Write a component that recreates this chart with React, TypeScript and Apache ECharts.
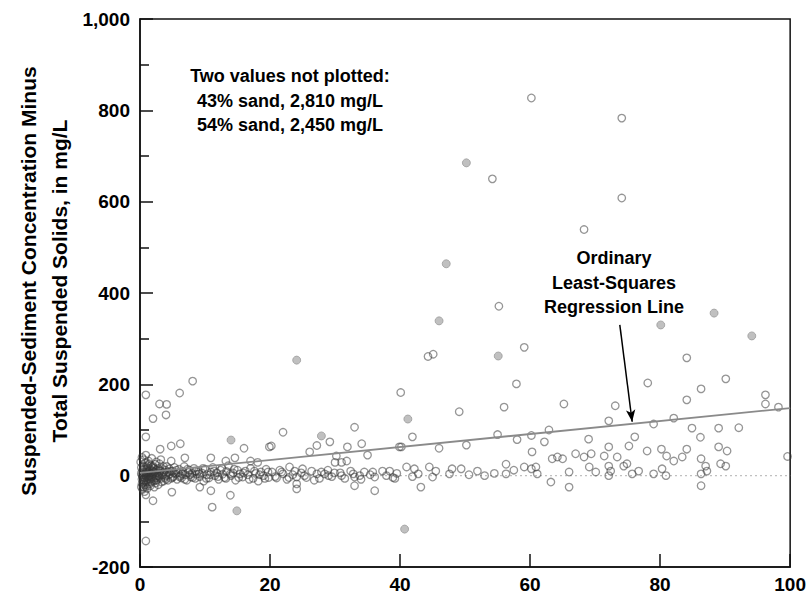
import React, { useEffect, useRef } from "react";
import * as echarts from "echarts";

// Percent sand (x) vs. SSC minus TSS, mg/L (y) — open circles
const openPoints: [number, number][] = [
  // upper outliers
  [60.2, 827], [74.1, 783], [54.2, 650], [74.1, 608], [68.3, 539], [55.2, 371],
  [59.1, 281], [44.3, 261], [45.1, 266], [84.1, 258], [57.9, 201], [78.1, 203],
  [40.1, 182], [86.3, 190], [90.1, 212], [96.2, 177], [96.2, 157], [84.1, 166],
  [56, 150], [49.1, 140], [65.2, 157], [73.1, 153], [72.1, 120], [62.9, 100],
  [79, 113], [82.1, 126], [84.9, 104], [89, 104], [92.1, 105], [86.2, 84],
  [62.2, 74], [69, 80], [76.1, 85], [75.2, 65], [78, 54], [80.2, 58], [60.3, 52],
  [55, 90], [58, 79], [60.2, 88], [41.9, 85], [40.2, 63], [46, 60], [50.2, 67],
  [98.2, 150], [99.6, 42], [33, 106], [34.1, 70], [22, 95], [29.2, 74], [27.2, 66],
  [20.2, 65], [31.9, 63], [39.9, 63],
  // left side outliers
  [8.1, 207], [0.9, 177], [6.1, 181], [3, 157], [4.1, 156], [2, 125], [4, 133],
  [0.9, 85], [6.2, 70], [4.8, 65], [3.1, 58], [16, 60], [19.9, 63], [6.9, 39],
  [10.9, 39], [13.2, 32], [14.6, 39], [17, 32], [18.1, 29], [4.8, 32],
  [4.9, -36], [0.9, -42], [2, -55], [9.2, -25], [10.9, -33], [13.9, -43],
  [11.1, -69], [0.9, -143], [0.9, -14], [0.5, -25],
  // 20-40 near zero
  [20.3, 8], [21, -5], [21.5, 12], [22, 4], [22.6, -8], [23, 19], [23.5, 2],
  [24.1, -3], [24.1, -18], [24.1, -29], [24.8, 6], [25, 15], [25.6, -4],
  [26.1, 52], [26.4, 10], [27.2, 4], [27.6, -6], [28.4, 4], [28.9, 12],
  [29.5, -2], [30, 29], [30.2, 43], [30.8, 6], [31, 0], [31.8, 32], [31, 29],
  [32.4, 10], [33, -3], [33, -22], [33.8, 0], [34.5, 8], [35, 45], [35.4, 2],
  [36.1, -3], [36.1, -33], [37.3, 10], [38.4, 10], [38.9, -4], [39.5, 5],
  [20.8, -2], [21.8, 8], [22.9, -4], [23.8, 10], [25.3, 0], [26.8, -10],
  [27.9, 8], [29, 0], [29.9, 6], [31.5, -6], [32.8, 4], [34, -8], [35.8, 8],
  [37.9, 0], [39.2, -6],
  // 40-60 near zero
  [41, 19], [42.2, 15], [42.8, 4], [44.5, 19], [45, -3], [45.5, 10], [47.6, 4],
  [48, 15], [49.4, 15], [50.6, 2], [51.9, 10], [53, 0], [54.5, 5], [56.3, 25],
  [56.3, 4], [57.5, 12], [59.1, 19], [60.2, 15], [41.9, -2], [43.2, -25],
  // 60-100 near zero
  [63.4, 37], [64.2, 41], [65, 37], [67, 48], [68.3, 41], [69.4, 48], [72.1, 63],
  [71.4, 43], [73.4, 41], [72.1, 21], [72.1, 0], [72.4, 10], [74.4, 21],
  [74.9, 26], [60.9, 19], [61.1, 4], [66, 8], [69.1, 19], [70.1, 8], [76.7, 10],
  [75.7, 4], [79, 4], [80.3, 15], [63.2, -14], [66, -25], [81, 43], [82.1, 32],
  [83.4, 41], [84.1, 58], [89, 63], [90.3, 54], [89.3, 26], [90.1, 21],
  [86.3, 37], [87, 21], [86.3, 4], [87.2, 10], [80.9, 0], [86.3, -22],
  // dense cluster 0-20
  [0.2, 5], [0.3, -8], [0.4, 12], [0.5, -15], [0.5, 20], [0.6, 2], [0.7, -4],
  [0.8, 28], [0.8, -20], [0.9, 8], [1.0, -2], [1.0, 15], [1.1, -10], [1.2, 4],
  [1.2, 22], [1.3, -6], [1.4, 10], [1.5, 0], [1.5, -18], [1.6, 14], [1.7, 6],
  [1.8, -3], [1.9, 18], [2.0, 2], [2.1, -12], [2.2, 8], [2.3, 25], [2.4, -5],
  [2.5, 12], [2.6, 0], [2.7, -8], [2.8, 16], [2.9, 4], [3.0, -2], [3.1, 10],
  [3.2, 35], [3.3, -14], [3.4, 6], [3.5, 2], [3.6, 20], [3.8, -4], [3.9, 12],
  [4.0, 0], [4.2, 8], [4.3, -10], [4.5, 15], [4.6, 3], [4.8, -6], [5.0, 10],
  [5.1, -2], [5.3, 18], [5.5, 4], [5.7, -8], [5.9, 6], [6.0, 14], [6.2, 0],
  [6.4, -5], [6.6, 9], [6.8, 20], [7.0, 2], [7.2, -10], [7.4, 7], [7.6, 12],
  [7.8, -3], [8.0, 5], [8.3, 16], [8.5, -6], [8.7, 3], [9.0, 10], [9.2, -2],
  [9.5, 6], [9.8, -12], [10.0, 14], [10.3, 2], [10.6, -5], [10.9, 8], [11.2, 18],
  [11.5, 0], [11.8, 6], [12.1, -8], [12.4, 12], [12.7, 3], [13.0, -4], [13.3, 9],
  [13.6, 22], [14.0, 0], [14.3, 6], [14.7, -10], [15.0, 12], [15.4, 4],
  [15.8, -3], [16.2, 10], [16.6, 2], [17.0, 16], [17.4, -6], [17.8, 5],
  [18.2, -12], [18.6, 8], [19.0, 0], [19.4, 14], [19.8, -4],
  [0.1, 30], [0.2, -25], [0.3, 40], [0.4, -30], [0.6, 35], [0.7, -35], [0.9, 45],
  [1.1, -28], [1.3, 32], [1.6, -22], [1.8, 38], [2.2, -25], [2.5, 30],
  [2.8, -20], [0.2, 18], [0.3, -18], [0.6, -12], [0.9, -24], [1.4, 26],
  [1.7, -14], [2.0, 20], [2.4, -16], [3.0, 26], [3.6, -12],
  [0.3, 2], [0.4, -3], [0.5, 8], [0.6, -6], [0.7, 14], [0.8, -10], [0.9, 0],
  [1.0, 5], [1.1, 18], [1.2, -14], [1.3, 8], [1.4, -2], [1.5, 12], [1.6, -8],
  [1.7, 22], [1.8, 4], [1.9, -6], [2.0, 10], [2.1, 16], [2.3, -2], [2.5, -10],
  [2.6, 6], [2.8, 0], [3.0, 12], [3.2, -6], [3.4, 16], [3.7, 8], [4.0, -8],
  [4.1, 20], [4.4, 2], [4.7, 10], [5.0, -4], [5.2, 6], [5.6, 12], [6.1, -3],
  [6.5, 4], [6.9, -8], [7.3, 14], [7.7, 2], [8.1, -4], [8.6, 10], [9.1, 4],
  [9.7, 16], [10.2, -6], [10.8, 2], [11.4, 10], [12.0, -2], [12.6, 16],
  [13.2, -6], [13.9, 4], [14.5, 14], [15.2, -4], [15.9, 6], [16.8, -8],
  [17.6, 10], [18.4, 2], [19.2, -6], [19.7, 8],
];

// Filled grey dots (blurred marks in the original)
const filledPoints: [number, number][] = [
  [50.2, 685], [47.1, 464], [46, 339], [55.1, 262], [80.1, 330], [88.3, 356],
  [94.1, 306], [24.1, 253], [41.2, 124], [27.9, 87], [14, 78], [14.9, -77],
  [40.7, -117],
];

// Ordinary least-squares regression line endpoints
const regressionX = [0, 100];
const regressionY = [6, 148];

// Zero reference line
const zeroX = [0, 100];
const zeroY = [0, 0];

const xTicks = [0, 20, 40, 60, 80, 100];
const yTicks = [-200, 0, 200, 400, 600, 800, 1000];

const noteLines = ["Two values not plotted:", "43% sand, 2,810 mg/L", "54% sand, 2,450 mg/L"];
const regLabelLines = ["Ordinary", "Least-Squares", "Regression Line"];
const yTitleLines = ["Suspended-Sediment Concentration Minus", "Total Suspended Solids, in mg/L"];

const FONT = '"Liberation Sans", Arial, sans-serif';

export default function App() {
  const ref = useRef<HTMLDivElement>(null);
  useEffect(() => {
    if (!ref.current) return;
    const chart = echarts.init(ref.current, null, { renderer: "svg" });
    const option: any = {
      animation: false,
      backgroundColor: "#fff",
      grid: {
        left: 140, right: 18, top: 19, bottom: 33,
        show: true, borderColor: "#111", borderWidth: 1.5, backgroundColor: "transparent",
      },
      xAxis: {
        type: "value",
        min: xTicks[0], max: xTicks[xTicks.length - 1], interval: 20,
        axisLine: { onZero: false, lineStyle: { color: "#111", width: 1.5 } },
        axisTick: { inside: true, length: 13, lineStyle: { color: "#111", width: 1.5 } },
        splitLine: { show: false },
        axisLabel: { color: "#000", fontWeight: "bold", fontSize: 19, fontFamily: FONT, margin: 8 },
      },
      yAxis: {
        type: "value",
        min: yTicks[0], max: yTicks[yTicks.length - 1], interval: 200,
        axisLine: { onZero: false, lineStyle: { color: "#111", width: 1.5 } },
        axisTick: { inside: true, length: 13, lineStyle: { color: "#111", width: 1.5 } },
        minorTick: { show: true, splitNumber: 2, length: 9, lineStyle: { color: "#111", width: 1.5 } },
        splitLine: { show: false },
        minorSplitLine: { show: false },
        axisLabel: {
          color: "#000", fontWeight: "bold", fontSize: 19, fontFamily: FONT, margin: 10,
          formatter: (v: number) => v.toLocaleString("en-US"),
        },
      },
      series: [
        {
          type: "line",
          data: zeroX.map((x, i) => [x, zeroY[i]]),
          showSymbol: false,
          lineStyle: { color: "#c0c0c0", width: 1.2, type: [2, 3] },
          z: 1,
          silent: true,
        },
        {
          type: "scatter",
          data: filledPoints,
          symbol: "circle",
          symbolSize: 8,
          itemStyle: { color: "rgba(150,150,150,0.75)", borderColor: "rgba(150,150,150,0.9)", borderWidth: 1 },
          z: 2,
        },
        {
          type: "scatter",
          data: openPoints,
          symbol: "circle",
          symbolSize: 7.5,
          itemStyle: { color: "rgba(255,255,255,0)", borderColor: "rgba(55,55,55,0.66)", borderWidth: 1.3 },
          z: 3,
        },
        {
          type: "line",
          data: regressionX.map((x, i) => [x, regressionY[i]]),
          showSymbol: false,
          lineStyle: { color: "#8a8a8a", width: 1.8 },
          z: 4,
          silent: true,
          markLine: {
            silent: true,
            symbol: ["none", "arrow"],
            symbolSize: [7, 12],
            label: { show: false },
            lineStyle: { color: "#000", width: 1.5, type: "solid" },
            data: [[{ coord: [73.8, 330] }, { coord: [75.7, 118] }]],
          },
        },
      ],
      graphic: [
        {
          type: "text",
          style: {
            text: noteLines.join("\n"), x: 290, y: 64, align: "center", verticalAlign: "top",
            font: `bold 18px ${FONT}`, lineHeight: 24.5, fill: "#000",
          },
        },
        {
          type: "text",
          style: {
            text: regLabelLines.join("\n"), x: 614, y: 246, align: "center", verticalAlign: "top",
            font: `bold 18px ${FONT}`, lineHeight: 24.5, fill: "#000",
          },
        },
        {
          type: "text",
          x: 44, y: 281, rotation: Math.PI / 2,
          style: {
            text: yTitleLines.join("\n"), x: 0, y: 0, align: "center", verticalAlign: "middle",
            font: `bold 21px ${FONT}`, lineHeight: 31, fill: "#000",
          },
        },
      ],
    };
    chart.setOption(option);
    return () => chart.dispose();
  }, []);
  return <div ref={ref} style={{ position: "fixed", left: 0, top: 0, width: 809, height: 600 }} />;
}
